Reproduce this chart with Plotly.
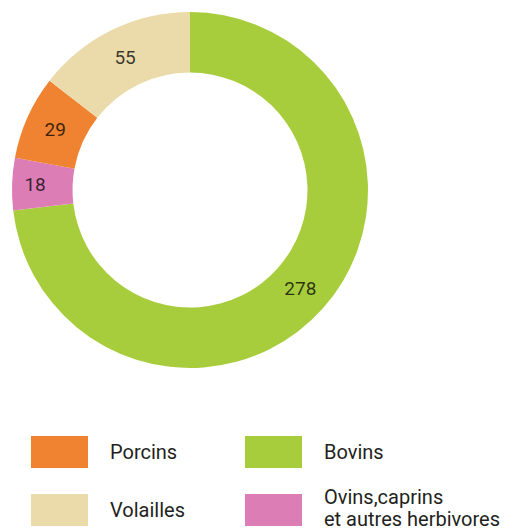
import plotly.graph_objects as go

W, H = 516, 528
categories = ["Bovins", "Ovins,caprins et autres herbivores", "Porcins", "Volailles"]
values = [278, 18, 29, 55]
colors = ["#a8cd3c", "#dd7db5", "#f08331", "#ebdbab"]

legend_names = ["Porcins", "Bovins", "Volailles", "Ovins,caprins|et autres herbivores"]
legend_colors = ["#f08331", "#a8cd3c", "#ebdbab", "#dd7db5"]

def px(x):
    return x / W

def py(y):
    return 1 - y / H

fig = go.Figure(go.Pie(
    labels=categories, values=values, sort=False, direction="clockwise", rotation=0,
    hole=0.66, marker=dict(colors=colors, line=dict(width=0)),
    textinfo="value", textposition="inside", insidetextorientation="horizontal",
    textfont=dict(family="Roboto", size=19, color="rgba(0,0,0,0.75)"),
    domain=dict(x=[px(12), px(368)], y=[py(368), py(12)]),
    showlegend=False, hoverinfo="label+value",
))

shapes = []
annotations = []
pos = [(31, 436), (245, 436), (31, 494), (245, 494)]
for name, col, (x0, y0) in zip(legend_names, legend_colors, pos):
    shapes.append(dict(type="rect", xref="paper", yref="paper",
                       x0=px(x0), x1=px(x0 + 57), y0=py(y0 + 32), y1=py(y0),
                       fillcolor=col, line=dict(width=0)))
    lines = name.split("|")
    if len(lines) == 1:
        ys = [y0 + 16]
    else:
        ys = [y0 + 3, y0 + 25]
    for t, yy in zip(lines, ys):
        annotations.append(dict(text=t, xref="paper", yref="paper",
                                x=px(x0 + 77), y=py(yy),
                                xanchor="left", yanchor="middle", align="left", showarrow=False,
                                font=dict(family="Roboto", size=20, color="#231f20")))

fig.update_layout(width=W, height=H, margin=dict(l=0, r=0, t=0, b=0),
                  paper_bgcolor="white", plot_bgcolor="white",
                  shapes=shapes, annotations=annotations)
fig.write_html("out.html", config={"displayModeBar": False})

with open("out.html", "r", encoding="utf-8") as f:
    html = f.read()
html = html.replace("<head>", "<head><style>html,body{margin:0;padding:0;overflow:hidden}</style>", 1)
with open("out.html", "w", encoding="utf-8") as f:
    f.write(html)
